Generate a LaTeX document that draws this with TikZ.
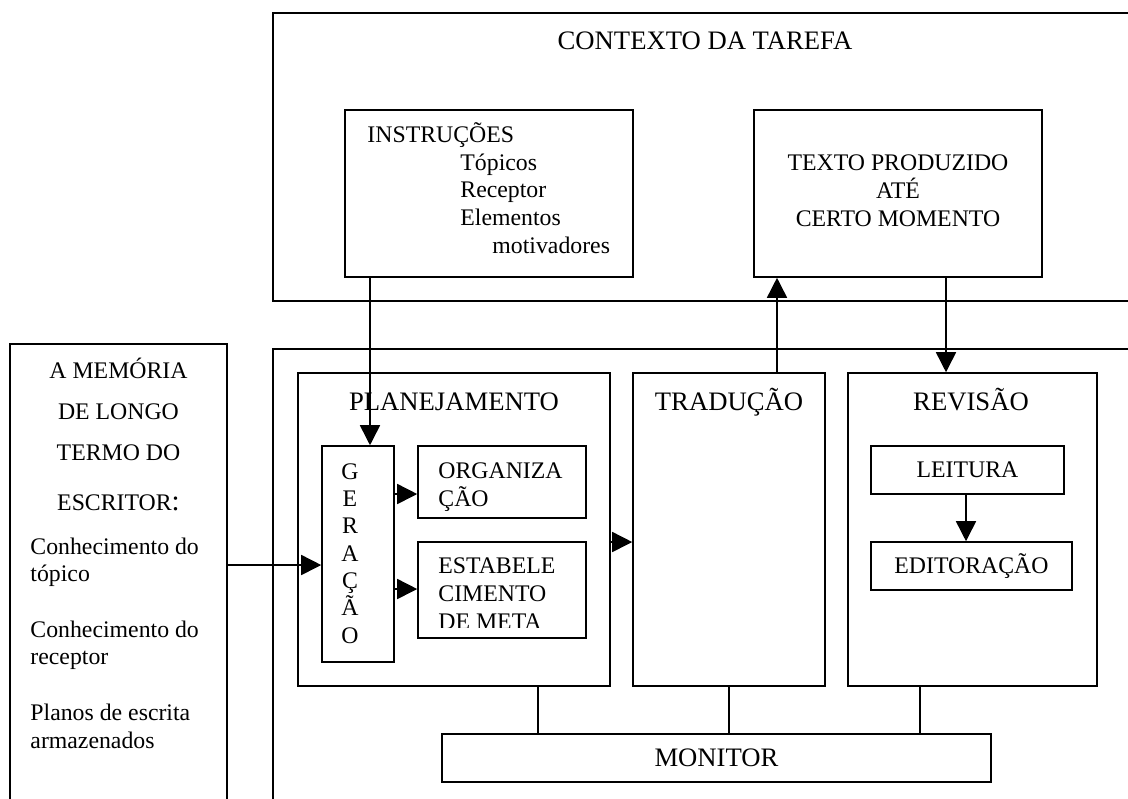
\documentclass[tikz,border=0pt]{standalone}
\usepackage{fontspec}
\setmainfont{Liberation Serif}
\usetikzlibrary{arrows.meta}

\tikzset{
  box/.style={draw, rectangle, line width=0.7pt, inner sep=0pt},
  big/.style={font=\fontsize{12}{13}\selectfont, inner sep=0pt},
  small/.style={font=\fontsize{10.7}{12.4}\selectfont, inner sep=0pt},
  smallbox/.style={box, small, text height=7.1pt, text depth=0pt},
  bigbox/.style={box, big, text height=7.9pt, text depth=0pt},
  arr/.style={line width=0.7pt, -{Triangle[length=9pt,width=9pt]}},
  link/.style={line width=0.7pt},
}

\begin{document}
\begin{tikzpicture}[x=0.45pt, y=-0.45pt]
    \useasboundingbox (0,0) rectangle (1128,798);
    \clip (0,0) rectangle (1128,798);

    % contexto da tarefa (base = ultima linha)
    \node[box, minimum width=390.2pt, minimum height=129.6pt] (ctx) at (706.5,157) {};
    \node[big, anchor=base] (ctxtitle) at (705,49) {CONTEXTO DA TAREFA};
    \node[box, minimum width=129.6pt, minimum height=75.15pt] (instr) at (489,193.5) {};
    \node[small, anchor=base west, align=left] (instrtext) at (367,253) {INSTRUÇÕES\\\hspace*{41.85pt}Tópicos\\\hspace*{41.85pt}Receptor\\\hspace*{41.85pt}Elementos\\\hspace*{56.25pt}motivadores};
    \node[box, minimum width=129.6pt, minimum height=75.15pt] (texto) at (898,193.5) {};
    \node[small, anchor=base, align=center] (textotext) at (898,226) {TEXTO PRODUZIDO\\ATÉ\\CERTO MOMENTO};

    % memoria de longo termo
    \node[box, minimum width=97.65pt, minimum height=209.7pt] (mem) at (118.5,577) {};
    \node[small, anchor=base, align=center, font=\fontsize{10.7}{18.45}\selectfont] (memtitle) at (118.5,510) {A MEMÓRIA\\DE LONGO\\TERMO DO\\[4pt]ESCRITOR{\fontsize{13}{13}\selectfont:}};
    \node[small, anchor=base west, align=left] (memtext) at (30,748) {Conhecimento do\\tópico\\[12.6pt]Conhecimento do\\receptor\\[12.6pt]Planos de escrita\\armazenados};

    % processos
    \node[box, minimum width=390.2pt, minimum height=207.45pt] (proc) at (706.5,579.5) {};
    \node[box, minimum width=140.4pt, minimum height=140.85pt] (plan) at (454,529.5) {};
    \node[big, anchor=base] (plantitle) at (454,410) {PLANEJAMENTO};
    \node[box, minimum width=86.4pt, minimum height=140.85pt] (trad) at (729,529.5) {};
    \node[big, anchor=base] (tradtitle) at (729,410) {TRADUÇÃO};
    \node[box, minimum width=112.05pt, minimum height=140.85pt] (rev) at (972.5,529.5) {};
    \node[big, anchor=base] (revtitle) at (971,410) {REVISÃO};

    \node[box, minimum width=32.4pt, minimum height=97.2pt] (ger) at (358,554) {};
    \node[small, anchor=base, align=center, font=\fontsize{10.7}{12.3}\selectfont] (gertext) at (350,643) {G\\E\\R\\A\\Ç\\Ã\\O};
    \node[box, minimum width=75.6pt, minimum height=32.4pt] (org) at (502,482) {};
    \node[small, anchor=base west, align=left] (orgtext) at (438,506) {ORGANIZA\\ÇÃO};
    \node[box, minimum width=75.6pt, minimum height=43.2pt] (est) at (502,590) {};
    \begin{scope}
      \clip (418,542) rectangle (586,627);
      \node[small, anchor=base west, align=left] (esttext) at (438,629) {ESTABELE\\CIMENTO\\DE META};
    \end{scope}

    \node[smallbox, minimum width=86.85pt, minimum height=21.6pt] (leit) at (967.5,470) {LEITURA};
    \node[smallbox, minimum width=90.45pt, minimum height=21.6pt] (edit) at (971.5,566) {EDITORAÇÃO};
    \node[bigbox, minimum width=247.05pt, minimum height=21.6pt] (mon) at (716.5,758) {MONITOR};

    \draw[arr] (instr.south -| 370,0) -- (ger.north -| 370,0);
    \draw[arr] (trad.north -| 777,0) -- (texto.south -| 777,0);
    \draw[arr] (texto.south -| 946,0) -- (rev.north -| 946,0);
    \draw[arr] (mem.east |- 0,565) -- (ger.west |- 0,565);
    \draw[arr] (ger.east |- 0,494) -- (org.west |- 0,494);
    \draw[arr] (ger.east |- 0,589) -- (est.west |- 0,589);
    \draw[arr] (plan.east |- 0,542) -- (trad.west |- 0,542);
    \draw[arr] (leit.south -| 966,0) -- (edit.north -| 966,0);
    \draw[link] (plan.south -| 538,0) -- (mon.north -| 538,0);
    \draw[link] (trad.south -| 729,0) -- (mon.north -| 729,0);
    \draw[link] (rev.south -| 920,0) -- (mon.north -| 920,0);

\end{tikzpicture}
\end{document}
